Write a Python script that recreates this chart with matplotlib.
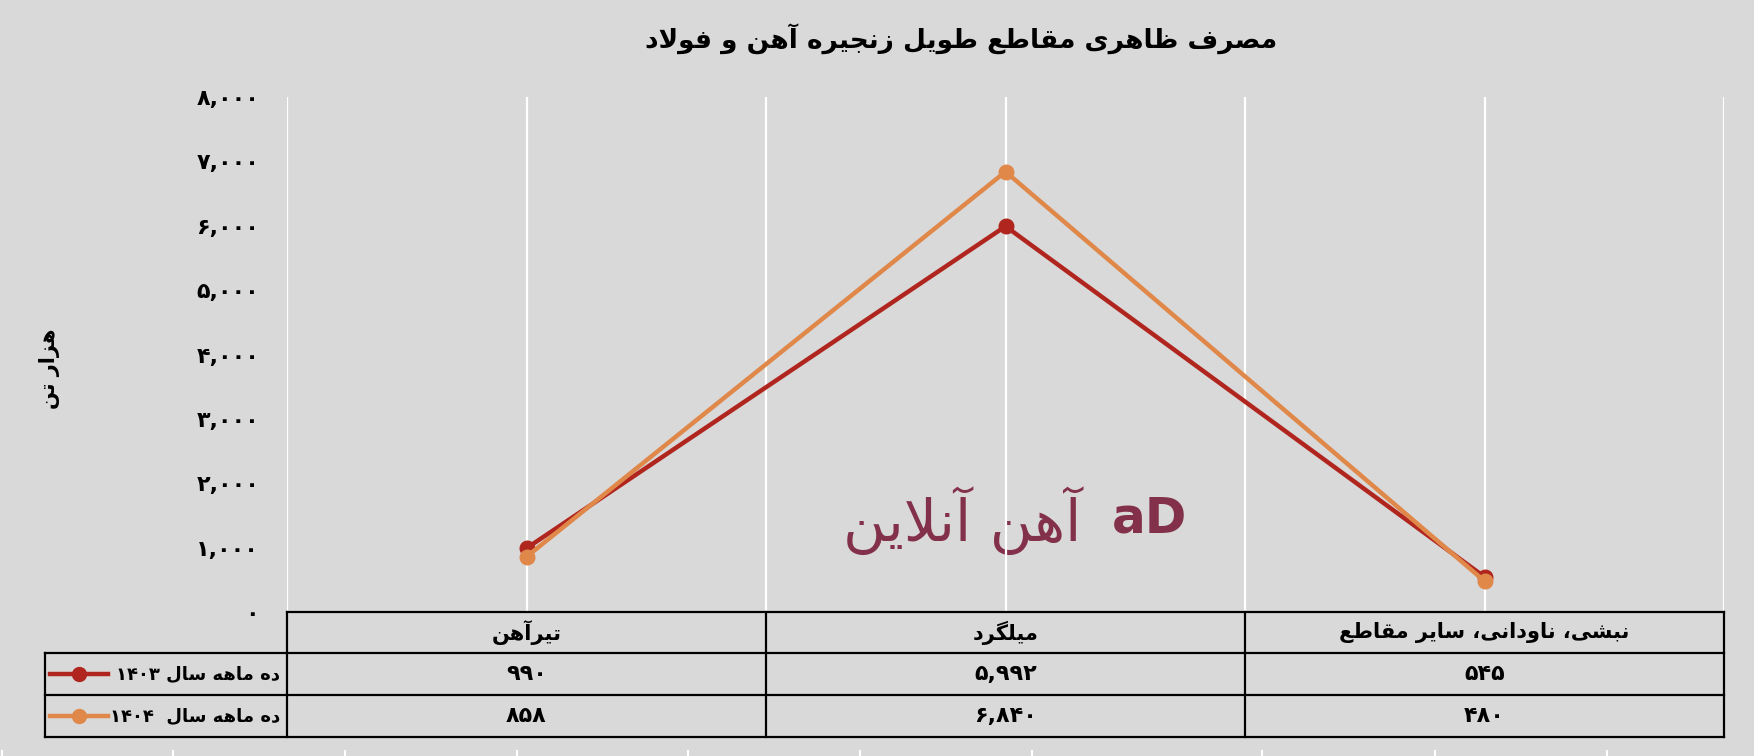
import re
import numpy as np
import matplotlib
matplotlib.use('Agg')
import matplotlib.pyplot as plt
from matplotlib.transforms import blended_transform_factory

# data
categories = ['تیرآهن', 'میلگرد', 'نبشی، ناودانی، سایر مقاطع']
series_names = ['ده ماهه سال ۱۴۰۳', 'ده ماهه سال  ۱۴۰۴']
values_1403 = [990, 5992, 545]
values_1404 = [858, 6840, 480]
yticks = [0, 1000, 2000, 3000, 4000, 5000, 6000, 7000, 8000]

title = 'مصرف ظاهری مقاطع طویل زنجیره آهن و فولاد'
ylabel = 'هزار تن'
watermark = 'آهن آنلاین'

c1403 = '#B0261E'
c1404 = '#E0884A'
bg = '#D9D9D9'

# --- minimal persian shaping (matplotlib has no complex text layout) ---
FORMS = {
    'ا': ('\uFE8D', '\uFE8E'), 'آ': ('\uFE81', '\uFE82'),
    'د': ('\uFEA9', '\uFEAA'), 'ر': ('\uFEAD', '\uFEAE'),
    'ز': ('\uFEAF', '\uFEB0'), 'و': ('\uFEED', '\uFEEE'),
    'ب': ('\uFE8F', '\uFE90', '\uFE91', '\uFE92'),
    'ت': ('\uFE95', '\uFE96', '\uFE97', '\uFE98'),
    'ج': ('\uFE9D', '\uFE9E', '\uFE9F', '\uFEA0'),
    'ح': ('\uFEA1', '\uFEA2', '\uFEA3', '\uFEA4'),
    'س': ('\uFEB1', '\uFEB2', '\uFEB3', '\uFEB4'),
    'ش': ('\uFEB5', '\uFEB6', '\uFEB7', '\uFEB8'),
    'ص': ('\uFEB9', '\uFEBA', '\uFEBB', '\uFEBC'),
    'ط': ('\uFEC1', '\uFEC2', '\uFEC3', '\uFEC4'),
    'ظ': ('\uFEC5', '\uFEC6', '\uFEC7', '\uFEC8'),
    'ع': ('\uFEC9', '\uFECA', '\uFECB', '\uFECC'),
    'ف': ('\uFED1', '\uFED2', '\uFED3', '\uFED4'),
    'ق': ('\uFED5', '\uFED6', '\uFED7', '\uFED8'),
    'ل': ('\uFEDD', '\uFEDE', '\uFEDF', '\uFEE0'),
    'م': ('\uFEE1', '\uFEE2', '\uFEE3', '\uFEE4'),
    'ن': ('\uFEE5', '\uFEE6', '\uFEE7', '\uFEE8'),
    'ه': ('\uFEE9', '\uFEEA', '\uFEEB', '\uFEEC'),
    'ی': ('\uFBFC', '\uFBFD', '\uFBFE', '\uFBFF'),
    'گ': ('\uFB92', '\uFB93', '\uFB94', '\uFB95'),
}
LAM_ALEF = {'ا': ('\uFEFB', '\uFEFC'), 'آ': ('\uFEF5', '\uFEF6')}


def fa(s):
    out = []
    i = 0
    while i < len(s):
        c = s[i]
        prev = s[i - 1] if i > 0 else ''
        jp = prev in FORMS and len(FORMS[prev]) == 4
        if c == 'ل' and i + 1 < len(s) and s[i + 1] in LAM_ALEF:
            out.append(LAM_ALEF[s[i + 1]][1 if jp else 0])
            i += 2
            continue
        if c in FORMS:
            f = FORMS[c]
            nxt = s[i + 1] if i + 1 < len(s) else ''
            jn = len(f) == 4 and nxt in FORMS
            if jp and jn:
                out.append(f[3])
            elif jp:
                out.append(f[1])
            elif jn:
                out.append(f[2])
            else:
                out.append(f[0])
        else:
            out.append(c)
        i += 1
    vis = ''.join(out)[::-1]
    return re.sub('[۰-۹0-9,]+', lambda m: m.group(0)[::-1], vis)


def fa_num(v):
    return f'{v:,}'.translate(str.maketrans('0123456789', '۰۱۲۳۴۵۶۷۸۹'))


plt.rcParams['font.family'] = ['DejaVu Sans']
plt.rcParams['font.weight'] = 'bold'

W, H = 1754, 756
fig = plt.figure(figsize=(W / 100, H / 100), dpi=100, facecolor=bg)

# plot area
x0, x1, ytop, ybot = 287, 1724, 97, 612
ax = fig.add_axes([x0 / W, (H - ybot) / H, (x1 - x0) / W, (ybot - ytop) / H])
ax.set_facecolor('none')
x = np.arange(len(categories))
ax.plot(x, values_1403, color=c1403, lw=3.2, marker='o', ms=10.5, zorder=3)
ax.plot(x, values_1404, color=c1404, lw=3.2, marker='o', ms=10.5, zorder=4)
ax.set_xlim(-0.5, len(categories) - 0.5)
ax.set_ylim(0, 8000)
ax.set_xticks(np.arange(-0.5, len(categories), 0.5))
ax.set_xticklabels([])
ax.grid(axis='x', color='white', lw=1.6)
ax.set_yticks(yticks)
ax.set_yticklabels([fa_num(v) for v in yticks], fontsize=16, fontweight='bold')
ax.tick_params(length=0, pad=20)
for s in ax.spines.values():
    s.set_visible(False)

# watermark
ax.text(0.91, 1420, fa(watermark), color='#7A1F3A', fontsize=42, fontweight='normal',
        ha='center', va='center', alpha=0.9, zorder=1)
ax.text(1.30, 1450, 'aD', color='#7A1F3A', fontsize=36, fontweight='bold',
        ha='center', va='center', alpha=0.9, zorder=1)

fig.text(961 / W, 1 - 39 / H, fa(title), fontsize=19, fontweight='bold', ha='center', va='center')
fig.text(50 / W, 1 - 369 / H, fa(ylabel), fontsize=15, fontweight='bold', rotation=90,
         ha='center', va='center')

# data table under the chart
tab = fig.add_axes([0, 0, 1, 1])
tab.set_xlim(0, W)
tab.set_ylim(H, 0)
tab.axis('off')
tr = blended_transform_factory(ax.transData, tab.transData)
rows = [612, 653, 695, 737]
leg_left = 45
lw = 1.6
tab.plot([x0, x1], [rows[0], rows[0]], color='black', lw=lw)
for r in rows[1:]:
    tab.plot([leg_left, x1], [r, r], color='black', lw=lw)
tab.plot([leg_left, leg_left], [rows[1], rows[3]], color='black', lw=lw)
for b in np.arange(-0.5, len(categories), 1.0):
    tab.plot([b, b], [rows[0], rows[3]], color='black', lw=lw, transform=tr)

for i, cat in enumerate(categories):
    tab.text(i, (rows[0] + rows[1]) / 2, fa(cat), transform=tr, ha='center', va='center',
             fontsize=15, fontweight='bold')
for j, (vals, name, col) in enumerate([(values_1403, series_names[0], c1403),
                                       (values_1404, series_names[1], c1404)]):
    yc = (rows[j + 1] + rows[j + 2]) / 2
    for i, v in enumerate(vals):
        tab.text(i, yc, fa_num(v), transform=tr, ha='center', va='center',
                 fontsize=16, fontweight='bold')
    tab.text(280, yc, fa(name), ha='right', va='center', fontsize=13, fontweight='bold')
    tab.plot([50, 108], [yc, yc], color=col, lw=3.2)
    tab.plot([79], [yc], color=col, marker='o', ms=10)

# little white cell marks at the bottom edge
for bx in [2, 173, 345, 517, 688, 860, 1032, 1262, 1435, 1607]:
    tab.plot([bx, bx], [751, 756], color='white', lw=1.5)

fig.savefig('out.png', dpi=100, facecolor=bg)
